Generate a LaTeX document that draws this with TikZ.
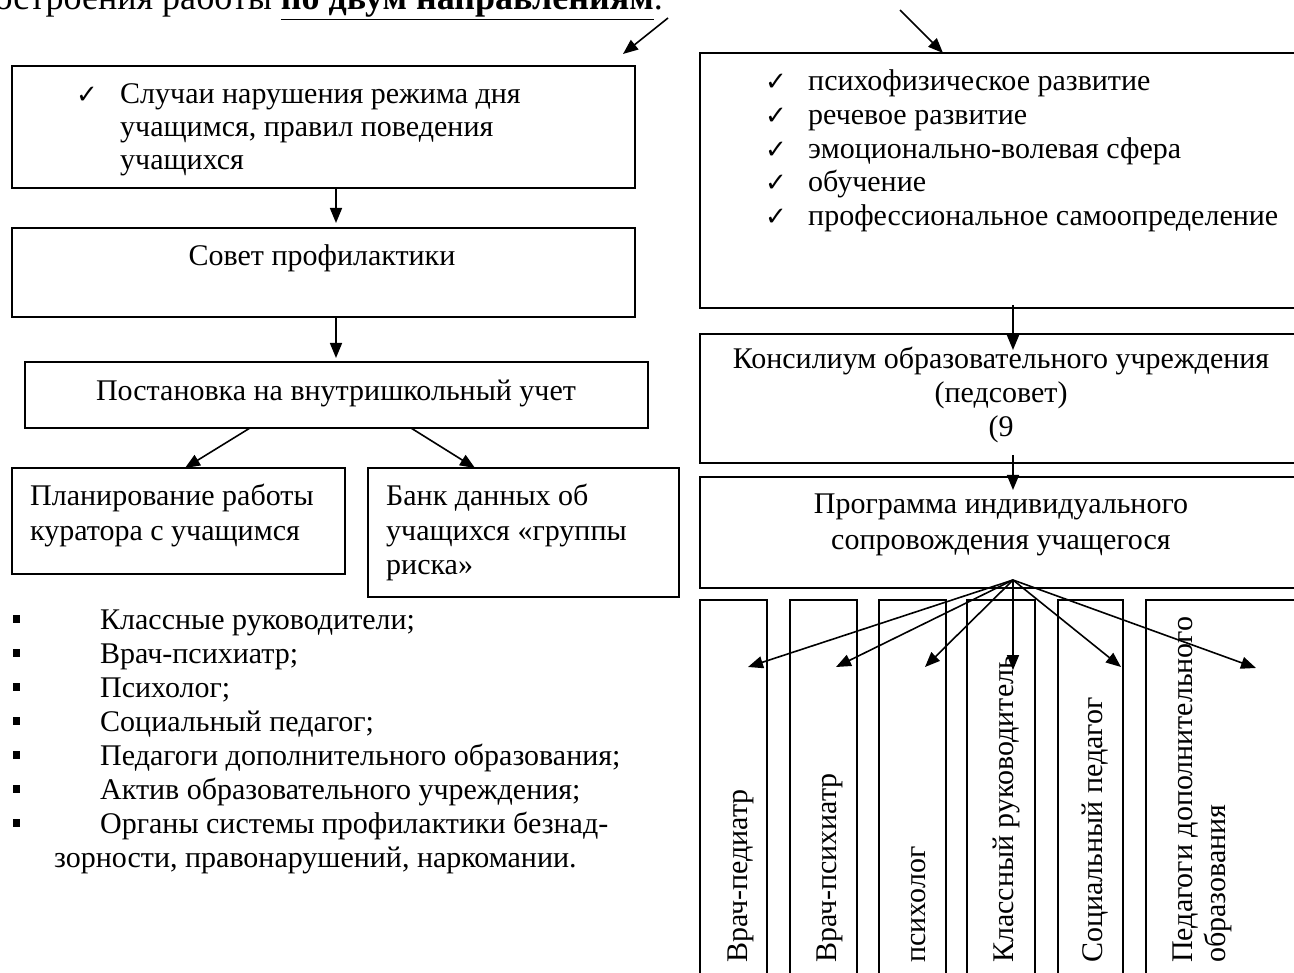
\documentclass[tikz,border=0pt]{standalone}
\usepackage{fontspec}
\setmainfont{Liberation Serif}
\newfontfamily\symfont{DejaVu Sans}
\usetikzlibrary{arrows.meta}
\begin{document}
\begin{tikzpicture}[x=1pt,y=-1pt,
  box/.style={draw, line width=1.4pt, inner sep=0pt, outer sep=0pt, anchor=north west},
  arr/.style={line width=1.6pt, -{Triangle[length=15pt,width=12pt]}},
  tx/.style={inner sep=0pt, anchor=base west, font=\fontsize{30}{34}\selectfont},
  tc/.style={inner sep=0pt, anchor=base, font=\fontsize{30}{34}\selectfont},
  vt/.style={inner sep=0pt, anchor=base west, rotate=90, font=\fontsize{30}{34}\selectfont},
  ck/.style={inner sep=0pt, anchor=base west, font=\symfont\fontsize{26}{26}\selectfont},
  bl/.style={inner sep=0pt, anchor=base west, font=\fontsize{30}{34}\selectfont},
]
\useasboundingbox (0,0) rectangle (1294,973);
\fill[white] (0,0) rectangle (1294,973);

% heading (cut off at the top edge)
\node[inner sep=0pt, anchor=base east, font=\fontsize{36}{40}\selectfont] (head) at (663,10) {построения работы \textbf{\underline{по двум направлениям}}.};

% left boxes
\node[box, minimum width=623pt, minimum height=122pt] (b1) at (12,66) {};
\node[box, minimum width=623pt, minimum height=89pt] (b2) at (12,228) {};
\node[box, minimum width=623pt, minimum height=66pt] (b3) at (25,362) {};
\node[box, minimum width=333pt, minimum height=106pt] (b4) at (12,468) {};
\node[box, minimum width=311pt, minimum height=129pt] (b5) at (368,468) {};

\node[ck] (ck1) at (76,104) {✓};
\node[tx] (t1a) at (120,104) {Случаи нарушения режима дня};
\node[tx] (t1b) at (120,137) {учащимся, правил поведения};
\node[tx] (t1c) at (120,170) {учащихся};
\node[tc] (t2) at (322,266) {Совет профилактики};
\node[tc] (t3) at (336,401) {Постановка на внутришкольный учет};
\node[tx] (t4a) at (30,506) {Планирование работы};
\node[tx] (t4b) at (30,540) {куратора с учащимся};
\node[tx] (t5a) at (386,506) {Банк данных об};
\node[tx] (t5b) at (386,540) {учащихся «группы};
\node[tx] (t5c) at (386,574) {риска»};

% bullet list
\node[bl] (l1) at (13,629) {\makebox[87pt][l]{\rule[6pt]{7pt}{8pt}}Классные руководители;};
\node[bl] (l2) at (13,663) {\makebox[87pt][l]{\rule[6pt]{7pt}{8pt}}Врач-психиатр;};
\node[bl] (l3) at (13,697) {\makebox[87pt][l]{\rule[6pt]{7pt}{8pt}}Психолог;};
\node[bl] (l4) at (13,731) {\makebox[87pt][l]{\rule[6pt]{7pt}{8pt}}Социальный педагог;};
\node[bl] (l5) at (13,765) {\makebox[87pt][l]{\rule[6pt]{7pt}{8pt}}Педагоги дополнительного образования;};
\node[bl] (l6) at (13,799) {\makebox[87pt][l]{\rule[6pt]{7pt}{8pt}}Актив образовательного учреждения;};
\node[bl] (l7) at (13,833) {\makebox[87pt][l]{\rule[6pt]{7pt}{8pt}}Органы системы профилактики безнад-};
\node[bl] (l8) at (54,867) {зорности, правонарушений, наркомании.};

% right boxes
\node[box, minimum width=620pt, minimum height=255pt] (RB1) at (700,53) {};
\node[box, minimum width=620pt, minimum height=129pt] (RB2) at (700,334) {};
\node[box, minimum width=620pt, minimum height=111pt] (RB3) at (700,477) {};
\node[box, minimum width=67pt, minimum height=400pt] (c1) at (700,600) {};
\node[box, minimum width=67pt, minimum height=400pt] (c2) at (790,600) {};
\node[box, minimum width=67pt, minimum height=400pt] (c3) at (879,600) {};
\node[box, minimum width=68pt, minimum height=400pt] (c4) at (967,600) {};
\node[box, minimum width=65pt, minimum height=400pt] (c5) at (1058,600) {};
\node[box, minimum width=200pt, minimum height=400pt] (c6) at (1146,600) {};

\node[ck] (ck2) at (765,91) {✓};
\node[ck] (ck3) at (765,125) {✓};
\node[ck] (ck4) at (765,159) {✓};
\node[ck] (ck5) at (765,192) {✓};
\node[ck] (ck6) at (765,226) {✓};
\node[tx] (r1) at (808,91) {психофизическое развитие};
\node[tx] (r2) at (808,125) {речевое развитие};
\node[tx] (r3) at (808,159) {эмоционально-волевая сфера};
\node[tx] (r4) at (808,192) {обучение};
\node[tx] (r5) at (808,226) {профессиональное самоопределение};

\node[tc] (k1t) at (1001,369) {Консилиум образовательного учреждения};
\node[tc] (k2t) at (1001,403) {(педсовет)};
\node[tc] (k3t) at (1001,437) {(9};
\node[tc] (p1t) at (1001,514) {Программа индивидуального};
\node[tc] (p2t) at (1001,549) {сопровождения учащегося};

\node[vt] (v1) at (747,963) {Врач-педиатр};
\node[vt] (v2) at (836,963) {Врач-психиатр};
\node[vt] (v3) at (925,963) {психолог};
\node[vt] (v4) at (1013,963) {Классный руководитель};
\node[vt] (v5) at (1102,963) {Социальный педагог};
\node[vt] (v6a) at (1192,963) {Педагоги дополнительного};
\node[vt] (v6b) at (1225,963) {образования};

% connectors
\coordinate (hl0) at (668,18); \coordinate (hl1) at (623,54);
\coordinate (hr0) at (900,10); \coordinate (hr1) at (943,53);
\draw[arr] (hl0) -- (hl1);
\draw[arr] (hr0) -- (hr1);

\coordinate (ax) at (336,0);
\draw[arr, shorten >=5pt] (b1.south -| ax) -- (b2.north -| ax);
\draw[arr, shorten >=4pt] (b2.south -| ax) -- (b3.north -| ax);
\coordinate (s4) at (250,0); \coordinate (e4) at (185,0);
\coordinate (s5) at (411,0); \coordinate (e5) at (475,0);
\draw[arr] (b3.south -| s4) -- (b4.north -| e4);
\draw[arr] (b3.south -| s5) -- (b5.north -| e5);

\coordinate (k1) at (1013,350);
\coordinate (k2) at (1013,490);
\draw[arr, shorten <=-3pt] (RB1.south -| k1) -- (k1);
\draw[arr, shorten <=-8pt] (RB2.south -| k2) -- (k2);

\coordinate (fan) at (1013,580);
\coordinate (f1) at (748,667);
\coordinate (f2) at (836,667);
\coordinate (f3) at (925,667);
\coordinate (f4) at (1013,670);
\coordinate (f5) at (1121,667);
\coordinate (f6) at (1256,668);
\foreach \t in {f1,f2,f3,f4,f5,f6} \draw[arr] (fan) -- (\t);
\end{tikzpicture}
\end{document}
